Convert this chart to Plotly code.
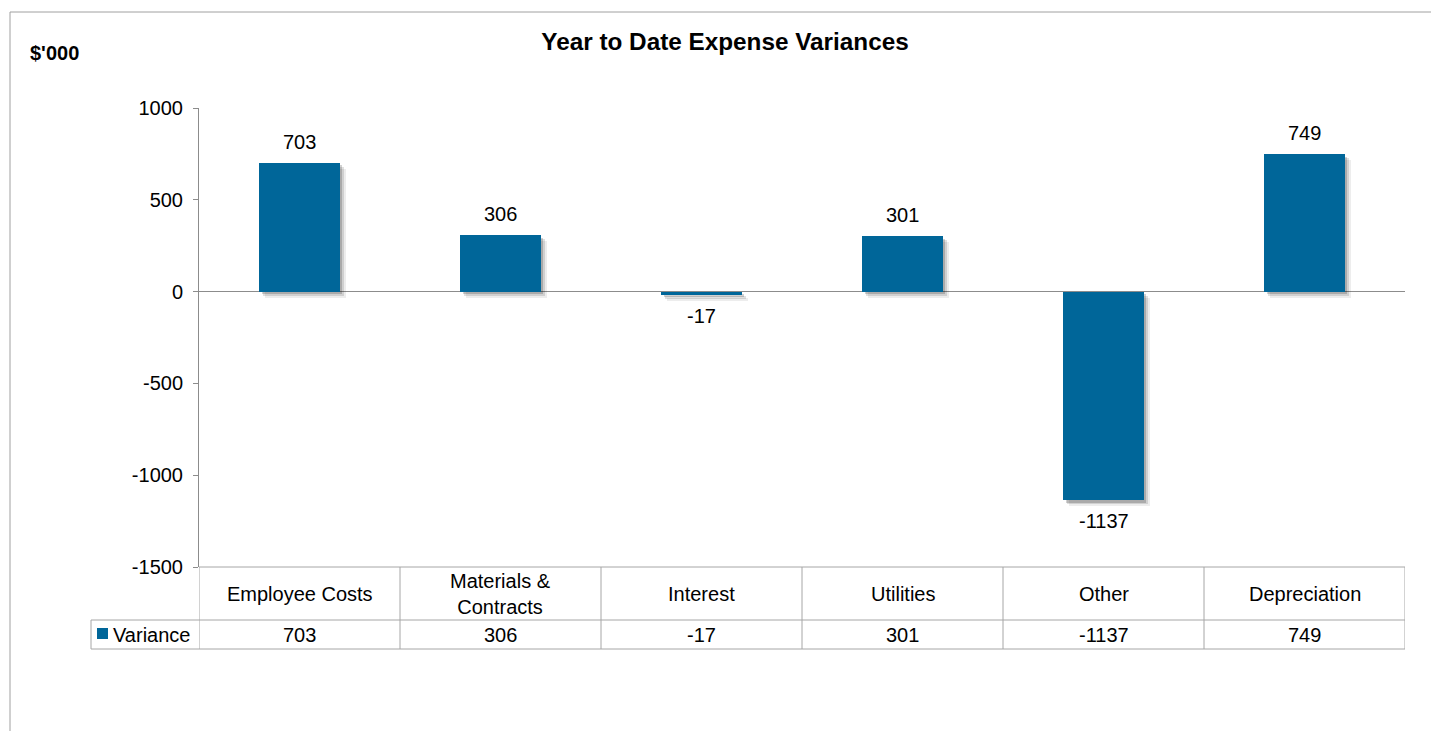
import plotly.graph_objects as go

# Year-to-date expense variances ($'000)
categories = ["Employee Costs", "Materials &<br>Contracts", "Interest", "Utilities", "Other", "Depreciation"]
variance = [703, 306, -17, 301, -1137, 749]
series_name = "Variance"
y_ticks = [1000, 500, 0, -500, -1000, -1500]
y_tick_labels = ["1000", "500", "0", "-500", "-1000", "-1500"]

W, H = 1431, 731
L, R, T, B = 199, 26, 108, 164
plot_h = H - T - B
plot_w = W - L - R
FONT = "Arial, Liberation Sans, sans-serif"
BAR = "#006699"
GRID = "#8c8c8c"
TABLE = "#a6a6a6"

y_lo, y_hi = -1500, 1000
units_per_px = (y_hi - y_lo) / plot_h
cat_per_px = len(categories) / plot_w


def py(p):
    """Pixel row -> paper y."""
    return (H - B - p) / plot_h


def px(p):
    """Pixel column -> paper x."""
    return (p - L) / plot_w


n = len(categories)
xs = list(range(n))
bw = 0.4

fig = go.Figure()

# soft drop shadow behind each bar
for d, a in [(6, 0.07), (4, 0.12), (2.5, 0.18)]:
    fig.add_trace(go.Bar(
        x=xs, y=variance, base=[-d * units_per_px] * n,
        width=bw, offset=-bw / 2 + d * cat_per_px,
        marker=dict(color=f"rgba(0,0,0,{a})", line=dict(width=0)),
        hoverinfo="skip", showlegend=False,
    ))

fig.add_trace(go.Bar(
    x=xs, y=variance, width=bw, offset=-bw / 2,
    marker=dict(color=BAR, line=dict(width=0)),
    name=series_name, showlegend=False,
))

annotations = []
# value labels at bar ends
for i, v in enumerate(variance):
    annotations.append(dict(
        x=i, y=v, xref="x", yref="y", text=str(v), showarrow=False,
        yanchor="bottom" if v >= 0 else "top",
        yshift=8 if v >= 0 else -8,
        font=dict(family=FONT, size=20, color="#000"),
    ))

# data table below the plot
row1_top, row1_bot, row2_bot = 567, 620, 649
for i, c in enumerate(categories):
    annotations.append(dict(
        x=i, y=py((row1_top + row1_bot) / 2), xref="x", yref="paper",
        text=c, showarrow=False, yanchor="middle",
        font=dict(family=FONT, size=20, color="#000"),
    ))
    annotations.append(dict(
        x=i, y=py((row1_bot + row2_bot) / 2), xref="x", yref="paper",
        text=str(variance[i]), showarrow=False, yanchor="middle",
        font=dict(family=FONT, size=20, color="#000"),
    ))
annotations.append(dict(
    x=px(111), y=py((row1_bot + row2_bot) / 2), xref="paper", yref="paper",
    text=series_name, showarrow=False, xanchor="left", yanchor="middle",
    font=dict(family=FONT, size=20, color="#000"),
))
# units note, top left
annotations.append(dict(
    x=px(28), y=py(53), xref="paper", yref="paper",
    text="<b>$'000</b>", showarrow=False, xanchor="left", yanchor="middle",
    font=dict(family=FONT, size=20, color="#000"),
))

shapes = []
ln = dict(color=TABLE, width=1)
# horizontal rules
shapes.append(dict(type="line", xref="paper", yref="paper", x0=0, x1=1, y0=py(row1_top), y1=py(row1_top), line=ln))
shapes.append(dict(type="line", xref="paper", yref="paper", x0=px(91), x1=1, y0=py(row1_bot), y1=py(row1_bot), line=ln))
shapes.append(dict(type="line", xref="paper", yref="paper", x0=px(91), x1=1, y0=py(row2_bot), y1=py(row2_bot), line=ln))
# vertical rules at category boundaries
for k in range(n + 1):
    shapes.append(dict(type="line", xref="x", yref="paper", x0=k - 0.5, x1=k - 0.5,
                       y0=py(row1_top), y1=py(row2_bot), line=ln))
shapes.append(dict(type="line", xref="paper", yref="paper", x0=px(91), x1=px(91),
                   y0=py(row1_bot), y1=py(row2_bot), line=ln))
# legend key
shapes.append(dict(type="rect", xref="paper", yref="paper", x0=px(97), x1=px(108),
                   y0=py(639), y1=py(628), fillcolor=BAR, line=dict(width=0)))
# outer chart frame
shapes.append(dict(type="line", xref="paper", yref="paper", x0=px(10), x1=px(W + 5),
                   y0=py(12), y1=py(12), line=dict(color="#a0a0a0", width=1)))
shapes.append(dict(type="line", xref="paper", yref="paper", x0=px(10), x1=px(10),
                   y0=py(12), y1=py(H + 5), line=dict(color="#a0a0a0", width=1)))

fig.update_layout(
    width=W, height=H,
    margin=dict(l=L, r=R, t=T, b=B),
    paper_bgcolor="white", plot_bgcolor="white",
    barmode="overlay", bargap=0,
    showlegend=False,
    title=dict(text="<b>Year to Date Expense Variances</b>", xref="container", yref="container",
               x=725 / W, y=1 - 41 / H, xanchor="center", yanchor="middle",
               font=dict(family=FONT, size=24.3, color="#000")),
    xaxis=dict(range=[-0.5, n - 0.5], showticklabels=False, showgrid=False,
               zeroline=False, showline=False, ticks=""),
    yaxis=dict(range=[y_lo, y_hi], tickvals=y_ticks, ticktext=y_tick_labels, showgrid=False,
               zeroline=True, zerolinecolor=GRID, zerolinewidth=1,
               showline=True, linecolor=GRID, linewidth=1,
               ticks="outside", ticklen=5, tickcolor=GRID, ticklabelstandoff=6,
               tickfont=dict(family=FONT, size=20, color="#000")),
    annotations=annotations,
    shapes=shapes,
)

fig.write_html("out.html")
